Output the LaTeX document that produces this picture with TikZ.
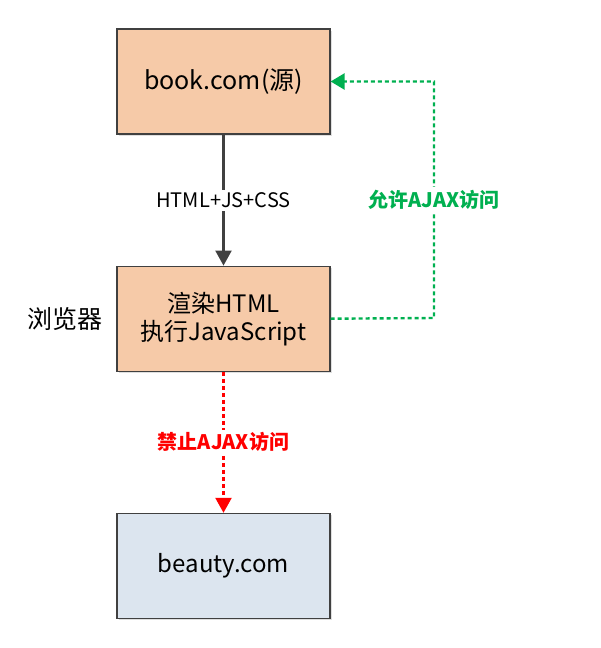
\documentclass[tikz,border=0pt]{standalone}
\usepackage{fontspec}
\setmainfont{Noto Sans CJK SC}
\usepackage{xcolor}
\usetikzlibrary{arrows.meta,positioning,calc,shadows}
\definecolor{peach}{HTML}{F6CAA8}
\definecolor{paleblue}{HTML}{DCE5EF}
\definecolor{okgreen}{HTML}{00B050}
\definecolor{lineg}{HTML}{404040}

\begin{document}
\begin{tikzpicture}[x=1pt, y=1pt,
    sbox/.style={rectangle, draw=lineg, line width=1.2pt, fill=peach, minimum width=213pt, minimum height=105pt, align=center, font=\fontsize{24}{28}\selectfont, drop shadow={shadow xshift=2pt, shadow yshift=-2pt, opacity=0.25}},
    lbl/.style={fill=white, inner sep=3pt, font=\fontsize{20}{24}\selectfont},
    dashline/.style={line width=2.4pt, dash pattern=on 4pt off 3pt}]
    \useasboundingbox (0,0) rectangle (600,-648);

    \node[sbox, font=\fontsize{25}{28}\selectfont] (book) at (223.5,-81.5) {book.com(源)};
    \node[sbox, below=131pt of book] (browser) {渲染HTML\\执行JavaScript};
    \node[sbox, below=141pt of browser, fill=paleblue] (beauty) {beauty.com};
    \node[left=10pt of browser, font=\fontsize{25}{28}\selectfont] (bname) {浏览器};
    \coordinate (turn) at (434,-318);

    \draw[-{Triangle[length=15pt,width=16pt]}, line width=2.2pt, lineg] (book) -- node[lbl, text=black] (req) {HTML+JS+CSS} (browser);
    \draw[-{Triangle[length=14pt,width=16pt]}, dashline, okgreen] (browser.east) -- (turn) |- node[pos=0.25, lbl, font=\bfseries\fontsize{20}{24}\selectfont] (allow) {允许AJAX访问} (book.east);
    \draw[-{Triangle[length=15pt,width=16pt]}, dashline, red] (browser) -- node[lbl, font=\bfseries\fontsize{20}{24}\selectfont] (deny) {禁止AJAX访问} (beauty);
\end{tikzpicture}
\end{document}
